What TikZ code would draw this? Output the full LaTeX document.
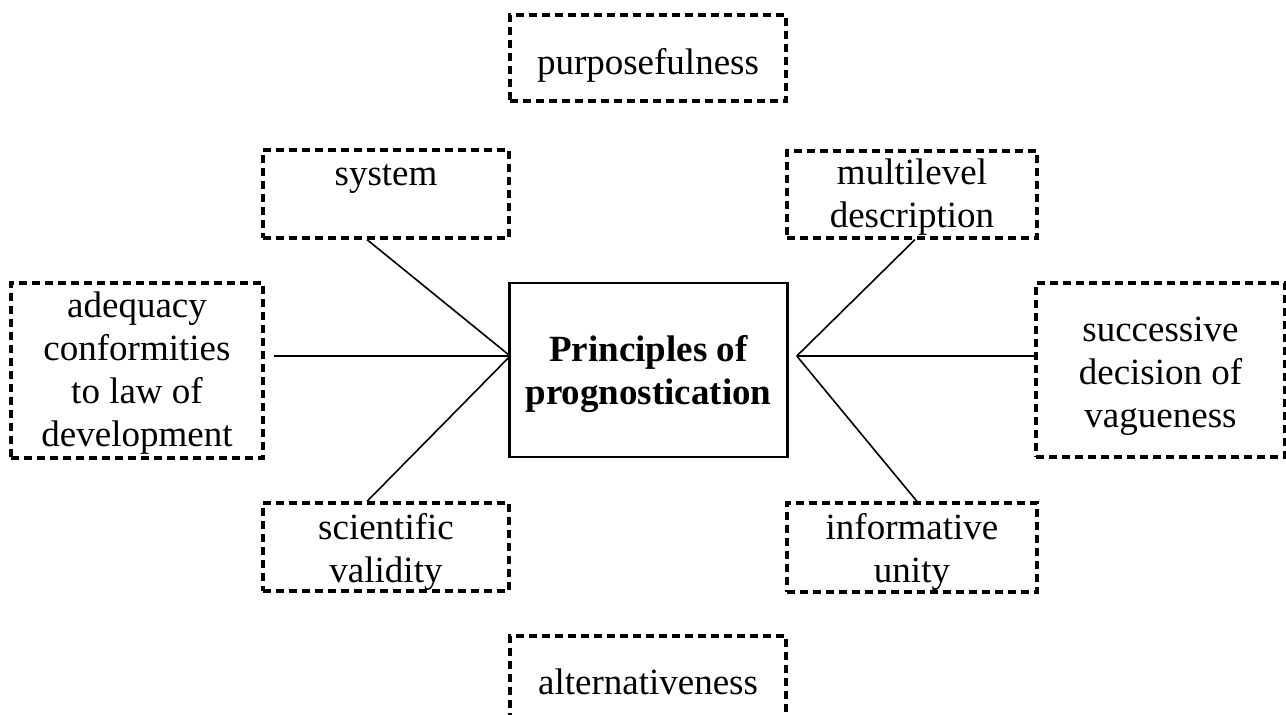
\documentclass[tikz,border=0pt]{standalone}
\usepackage{fontspec}
\setmainfont{Liberation Serif}
\usetikzlibrary{calc}
\begin{document}
\begin{tikzpicture}[x=1pt,y=-1pt,
  dbox/.style={draw, dash pattern=on 8pt off 5pt, line width=3.2pt, rectangle, inner sep=0pt},
  cbox/.style={draw, line width=2.6pt, rectangle, inner sep=0pt},
  lbl/.style={align=center, inner sep=0pt, font=\fontsize{37}{43}\selectfont},
  conn/.style={line width=1.6pt}]
\useasboundingbox (0,0) rectangle (1286,715);
\clip (0,0) rectangle (1286,715);
% boxes
\node[dbox, minimum width=276pt, minimum height=86pt] (purp) at (648,58) {};
\node[dbox, minimum width=246pt, minimum height=88pt] (sys) at (386,194) {};
\node[dbox, minimum width=250pt, minimum height=87pt] (multi) at (912,194.5) {};
\node[dbox, minimum width=252pt, minimum height=175pt] (adeq) at (137,370.5) {};
\node[cbox, minimum width=278pt, minimum height=174pt] (ctr) at (648.5,370) {};
\node[dbox, minimum width=249pt, minimum height=174pt] (succ) at (1160.5,370) {};
\node[dbox, minimum width=246pt, minimum height=88pt] (sci) at (386,547) {};
\node[dbox, minimum width=250pt, minimum height=89pt] (info) at (912,547.5) {};
\node[dbox, minimum width=276pt, minimum height=86pt] (alt) at (648,679) {};
% texts
\node[lbl, yshift=-8pt] (purp-t) at (purp) {\strut purposefulness};
\node[lbl, yshift=-4pt] (sys-t) at (sys) {\strut system\\\strut};
\node[lbl, yshift=-3pt] (multi-t) at (multi) {\strut multilevel\\\strut description};
\node[lbl, yshift=-2.5pt] (adeq-t) at (adeq) {\strut adequacy\\\strut conformities\\\strut to law of\\\strut development};
\node[lbl, yshift=-4.5pt, font=\fontsize{37}{43}\selectfont\bfseries] (ctr-t) at (ctr) {\strut Principles of\\\strut prognostication};
\node[lbl, yshift=-6pt] (succ-t) at (succ) {\strut successive\\\strut decision of\\\strut vagueness};
\node[lbl, yshift=-5pt] (sci-t) at (sci) {\strut scientific\\\strut validity};
\node[lbl, yshift=-4.5pt] (info-t) at (info) {\strut informative\\\strut unity};
\node[lbl, yshift=-7pt] (alt-t) at (alt) {\strut alternativeness};
% convergence points
\coordinate (cl) at ($(ctr.west)+(2,-14)$);
\coordinate (cr) at ($(ctr.east)+(8,-14)$);
% connectors
\draw[conn] ($(sys.south)+(-19,0)$) -- (cl);
\draw[conn] ($(adeq.east)+(9,-14.5)$) -- (cl);
\draw[conn] ($(sci.north)+(-19,0)$) -- (cl);
\draw[conn] (cr) -- ($(multi.south)+(3,0)$);
\draw[conn] (cr) -- ($(succ.west)+(0,-14)$);
\draw[conn] (cr) -- ($(info.north)+(5,0)$);
\end{tikzpicture}
\end{document}
